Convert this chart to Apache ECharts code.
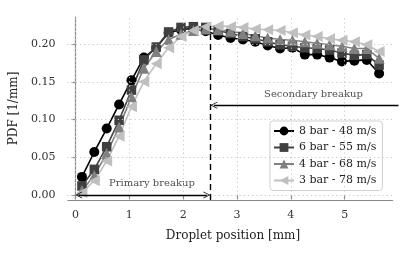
<!DOCTYPE html>
<html><head><meta charset="utf-8">
<script src="https://cdn.jsdelivr.net/npm/echarts@6/dist/echarts.min.js"></script>
<style>html,body{margin:0;padding:0;background:#fff}#c{width:411px;height:254px}</style>
</head><body><div id="c"></div>
<script>
// ---- data ----
const positions = [0.12, 0.35, 0.58, 0.81, 1.04, 1.27, 1.50, 1.73, 1.96, 2.19, 2.42, 2.65, 2.88, 3.11, 3.34, 3.57, 3.80, 4.03, 4.26, 4.49, 4.72, 4.95, 5.18, 5.41, 5.64];
const bar8 = [0.024, 0.057, 0.088, 0.120, 0.152, 0.182, 0.195, 0.215, 0.219, 0.221, 0.217, 0.212, 0.208, 0.206, 0.203, 0.198, 0.194, 0.195, 0.186, 0.186, 0.182, 0.177, 0.178, 0.179, 0.161];
const bar6 = [0.012, 0.034, 0.064, 0.099, 0.139, 0.179, 0.196, 0.216, 0.222, 0.223, 0.222, 0.218, 0.214, 0.210, 0.207, 0.203, 0.199, 0.197, 0.195, 0.194, 0.192, 0.188, 0.185, 0.186, 0.172];
const bar4 = [0.006, 0.026, 0.055, 0.090, 0.130, 0.168, 0.190, 0.206, 0.213, 0.218, 0.220, 0.219, 0.217, 0.214, 0.211, 0.208, 0.206, 0.205, 0.203, 0.201, 0.199, 0.197, 0.194, 0.194, 0.181];
const bar3 = [0.003, 0.019, 0.045, 0.078, 0.117, 0.150, 0.174, 0.195, 0.210, 0.218, 0.223, 0.224, 0.223, 0.222, 0.220, 0.219, 0.218, 0.215, 0.212, 0.210, 0.207, 0.205, 0.203, 0.199, 0.190];
const seriesNames = ['8 bar - 48 m/s', '6 bar - 55 m/s', '4 bar - 68 m/s', '3 bar - 78 m/s'];
const xTicks = [0, 1, 2, 3, 4, 5];
const yTicks = [0.00, 0.05, 0.10, 0.15, 0.20];
const xRange = [-0.15, 6.0];
const xSpineEnd = 5.9;
const yRange = [-0.0066, 0.2358];
const breakupPos = 2.5;
const breakupTop = 0.224;
const primaryArrow = [0.06, 2.44, 0.0];
const primaryLabel = [1.42, 0.0148, 'Primary breakup'];
const secondaryArrow = [6.0, 2.57, 0.119];
const secondaryLabel = [4.42, 0.133, 'Secondary breakup'];

// ---- styles ----
const FONT = 'DejaVu Serif';
const colors = ['#000000', '#404040', '#808080', '#bfbfbf'];
const symbols = ['circle', 'rect', 'triangle', 'triangle'];
const symbolSizes = [10, 9.5, 11, 11];
const symbolRotates = [0, 0, 0, 90];
const arrowHead = 'path://M0,10 L5,0 L10,10 L9,10 L5,2.2 L1,10 Z';

const valuesList = [bar8, bar6, bar4, bar3];
const dataSeries = valuesList.map((vals, k) => ({
  name: seriesNames[k],
  type: 'line',
  data: positions.map((x, i) => [x, vals[i]]),
  symbol: symbols[k],
  symbolSize: symbolSizes[k],
  symbolRotate: symbolRotates[k],
  showAllSymbol: true,
  clip: false,
  z: 3,
  lineStyle: { color: colors[k], width: 1.6 },
  itemStyle: { color: colors[k] },
  emphasis: { disabled: true }
}));

const gridLineData = [];
xTicks.forEach(v => gridLineData.push([{ coord: [v, yRange[0]] }, { coord: [v, yRange[1]] }]));
yTicks.forEach(v => gridLineData.push([{ coord: [xRange[0], v] }, { coord: [xSpineEnd, v] }]));

const helperGrid = {
  type: 'line', data: [], silent: true, z: 1,
  markLine: {
    silent: true, symbol: ['none', 'none'], label: { show: false },
    lineStyle: { color: '#c8c8c8', type: [1.2, 3], width: 1 },
    emphasis: { disabled: true },
    data: gridLineData
  }
};
const spine = {
  type: 'line', data: [], silent: true, z: 2,
  markLine: {
    silent: true, symbol: ['none', 'none'], label: { show: false },
    lineStyle: { color: '#8a8a8a', type: 'solid', width: 1.2 },
    emphasis: { disabled: true },
    data: [[{ coord: [xRange[0], yRange[0]] }, { coord: [xSpineEnd, yRange[0]] }]]
  }
};
const annotations = {
  type: 'line', data: [], silent: true, z: 2,
  markLine: {
    silent: true, label: { show: false }, emphasis: { disabled: true },
    symbolSize: [7, 7],
    data: [
      [{ coord: [breakupPos, yRange[0]], symbol: 'none', lineStyle: { color: '#000', type: [6, 4], width: 1.4 } },
       { coord: [breakupPos, breakupTop], symbol: 'none' }],
      [{ coord: [primaryArrow[0], primaryArrow[2]], symbol: arrowHead, lineStyle: { color: '#000', type: 'solid', width: 1.3 } },
       { coord: [primaryArrow[1], primaryArrow[2]], symbol: arrowHead }],
      [{ coord: [secondaryArrow[0], secondaryArrow[2]], symbol: 'none', lineStyle: { color: '#000', type: 'solid', width: 1.3 } },
       { coord: [secondaryArrow[1], secondaryArrow[2]], symbol: arrowHead }]
    ]
  }
};
const labels = {
  type: 'scatter', silent: true, z: 4, symbolSize: 0,
  data: [primaryLabel, secondaryLabel],
  label: {
    show: true, position: 'inside', formatter: p => p.data[2],
    fontFamily: FONT, fontSize: 10, color: '#222'
  }
};

const chart = echarts.init(document.getElementById('c'), null, { renderer: 'canvas' });
chart.setOption({
  animation: false,
  backgroundColor: '#fff',
  grid: { left: 67, right: 12.5, top: 17, bottom: 54, containLabel: false },
  xAxis: {
    type: 'value', min: xRange[0], max: xRange[1],
    axisLine: { show: false },
    axisTick: { show: true, customValues: xTicks, length: 4, lineStyle: { color: '#8a8a8a', width: 1.2 } },
    axisLabel: { customValues: xTicks, margin: 10, fontFamily: FONT, fontSize: 11, color: '#333' },
    splitLine: { show: false },
    name: 'Droplet position [mm]', nameLocation: 'middle', nameGap: 30,
    nameTextStyle: { fontFamily: FONT, fontSize: 12, color: '#222' }
  },
  yAxis: {
    type: 'value', min: yRange[0], max: yRange[1],
    axisLine: { show: true, lineStyle: { color: '#8a8a8a', width: 1.2 } },
    axisTick: { show: true, customValues: yTicks, length: 4, lineStyle: { color: '#8a8a8a', width: 1.2 } },
    axisLabel: { customValues: yTicks, margin: 12, fontFamily: FONT, fontSize: 11, color: '#333',
      formatter: v => v.toFixed(2) },
    splitLine: { show: false },
    name: 'PDF [1/mm]', nameLocation: 'middle', nameGap: 40,
    nameTextStyle: { fontFamily: FONT, fontSize: 12, color: '#222' }
  },
  legend: {
    data: seriesNames, orient: 'vertical', left: 270, top: 121,
    itemWidth: 20, itemHeight: 11, itemGap: 4.5,
    padding: [4, 6, 4, 3],
    backgroundColor: 'rgba(255,255,255,0.85)', borderColor: '#d0d0d0', borderWidth: 1, borderRadius: 3,
    textStyle: { fontFamily: FONT, fontSize: 11, color: '#222', lineHeight: 12 },
    selectedMode: false
  },
  series: [helperGrid, spine, annotations, ...dataSeries, labels]
});
</script></body></html>
